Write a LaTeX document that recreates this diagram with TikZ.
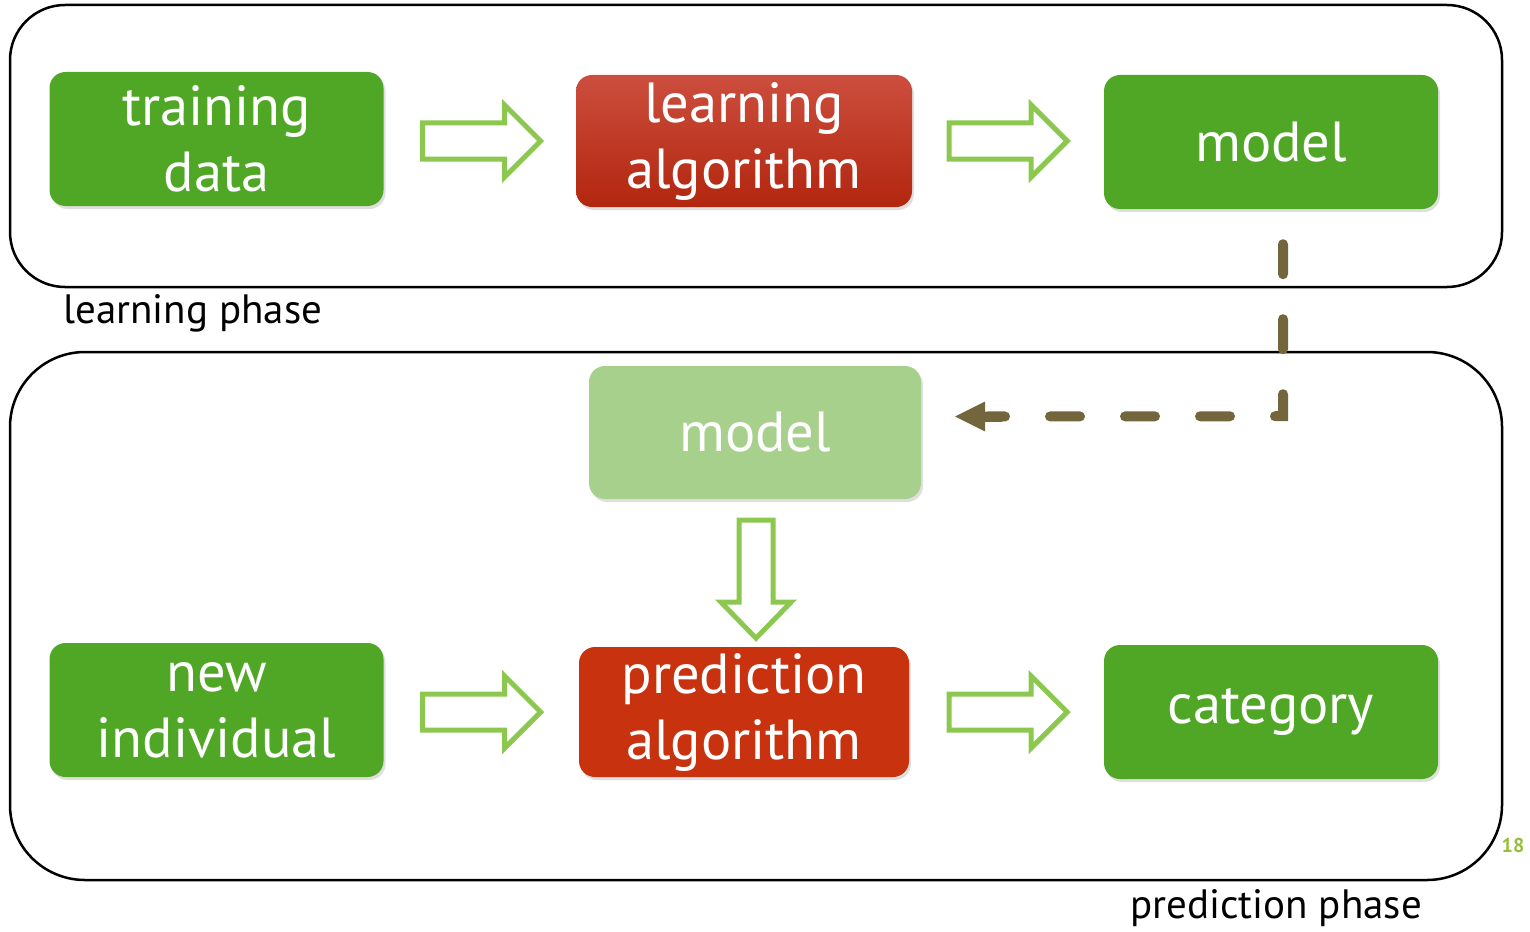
\documentclass[tikz,border=0pt]{standalone}
\usepackage{fontspec}
\setmainfont{PT Sans}
\usetikzlibrary{calc,shadows,arrows.meta}
\definecolor{boxgreen}{RGB}{80,167,38}
\definecolor{lightgreen}{RGB}{168,208,141}
\definecolor{redtop}{RGB}{204,78,62}
\definecolor{redbot}{RGB}{178,38,14}
\definecolor{predred}{RGB}{200,50,15}
\definecolor{arrowgreen}{RGB}{140,200,80}
\definecolor{olive}{RGB}{115,102,60}
\definecolor{pagegreen}{RGB}{150,190,60}
\tikzset{
  x=1pt,y=-1pt,
  phase/.style={draw=black,line width=2.5pt},
  boxbase/.style={rounded corners=16pt,text=white,align=center,inner sep=0pt,
    font=\fontsize{56.5}{66}\selectfont,
    drop shadow={shadow xshift=2pt,shadow yshift=-3pt,opacity=0.25}},
  greenbox/.style={boxbase,fill=boxgreen,minimum width=334pt,minimum height=134pt},
  redbox/.style={boxbase,top color=redtop,bottom color=redbot,minimum width=336pt,minimum height=132pt},
  predbox/.style={boxbase,fill=predred,minimum width=330pt,minimum height=130pt},
  lightbox/.style={boxbase,fill=lightgreen,minimum width=332pt,minimum height=133pt,drop shadow={opacity=0}},
  barrow/.style={draw=arrowgreen,fill=white,line width=5pt,line join=miter},
  rarrow/.pic={\draw[barrow] (0,-18) -- (82,-18) -- (82,-36) -- (118,0) -- (82,36) -- (82,18) -- (0,18) -- cycle;},
  darrow/.pic={\draw[barrow] (-17,0) -- (-17,82) -- (-35,82) -- (0,118) -- (35,82) -- (17,82) -- (17,0) -- cycle;},
  dashline/.style={draw=olive,line width=10pt,line cap=round,dash pattern=on 30pt off 45pt},
  label/.style={font=\fontsize{41}{46}\selectfont,text=black,inner sep=0pt}
}
\begin{document}
\begin{tikzpicture}
\useasboundingbox (0,0) rectangle (1530,931);
% phase containers
\draw[phase,rounded corners=55pt] (10,5) rectangle (1502,287);
\draw[phase,rounded corners=75pt] (10,352) rectangle (1502,880);
\node[label,anchor=west] (lp) at (63,313) {learning phase};
\node[label,anchor=west] (pp) at (1130,908) {prediction phase};
\node[font=\fontsize{20}{22}\selectfont\bfseries,text=pagegreen,inner sep=0pt] (pg) at (1513,845) {18};
% boxes
\node[greenbox] (td) at (216.5,139) {training\\data};
\node[redbox] (la) at (744,141) {learning\\algorithm};
\node[greenbox] (m1) at (1271,142) {model};
\node[lightbox] (m2) at (755,432.5) {model};
\node[greenbox] (ni) at (216.5,710) {new\\individual};
\node[predbox] (pa) at (744,712) {prediction\\algorithm};
\node[greenbox] (cat) at (1271,712) {category};
% block arrows
\pic at ($(td.east)+(39,2)$) {rarrow};
\pic at ($(la.east)+(37,0)$) {rarrow};
\pic at ($(ni.east)+(39,2)$) {rarrow};
\pic at ($(pa.east)+(40,0)$) {rarrow};
\pic at ($(m2.south)+(1,21)$) {darrow};
% dashed connector
\coordinate (turn) at ($(m1.south)+(12,207)$);
\draw[dashline] ($(m1.south)+(12,35)$) -- (turn) -- ($(m2.east)+(62,-16)$);
\draw[olive,line width=10pt,line cap=round] ($(m2.east)+(60,-16)$) -- ($(m2.east)+(80,-16)$);
\fill[olive] ($(m2.east)+(34,-16)$) -- ++(30,-15) -- ++(0,30) -- cycle;
\end{tikzpicture}
\end{document}
